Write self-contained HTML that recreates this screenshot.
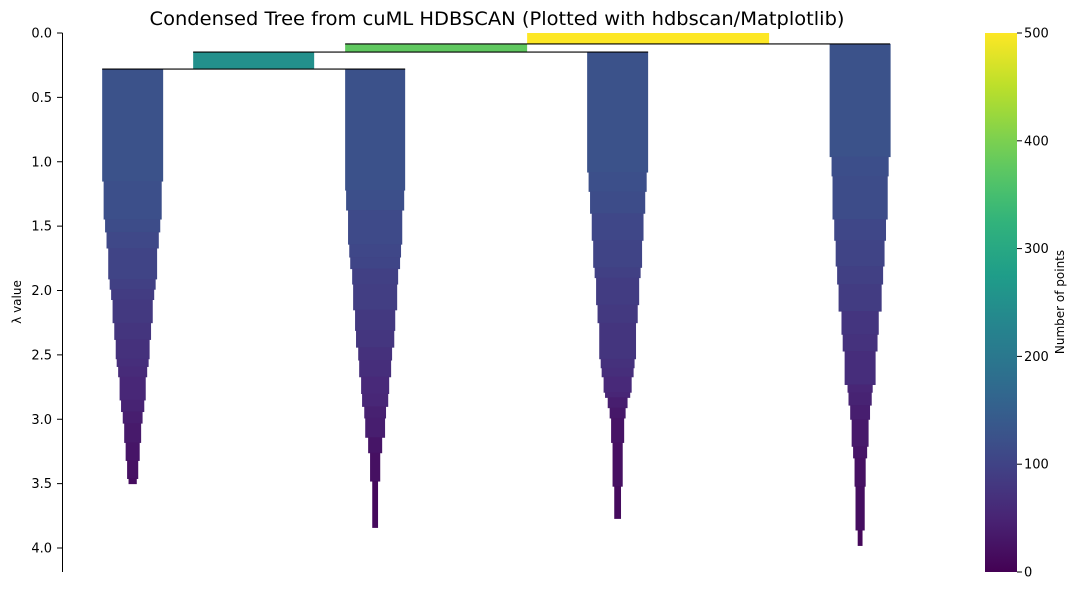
<!DOCTYPE html>
<html><head><meta charset="utf-8"><style>
body{margin:0;background:#fff;}
svg text{font-family:"DejaVu Sans","Liberation Sans",sans-serif;}
</style></head><body>
<svg id="chart" width="1077" height="590" xmlns="http://www.w3.org/2000/svg">
<text x="497" y="25" text-anchor="middle" font-size="19" textLength="695" lengthAdjust="spacingAndGlyphs">Condensed Tree from cuML HDBSCAN (Plotted with hdbscan/Matplotlib)</text>
<g id="plot"></g>
<g id="yaxis"></g>
<text transform="translate(21,302) rotate(-90)" text-anchor="middle" font-size="12">λ value</text>
<defs><linearGradient id="vir" x1="0" y1="1" x2="0" y2="0"></linearGradient></defs>
<rect x="985" y="33" width="32" height="539" fill="url(#vir)"/>
<g id="cbar"></g>
<text transform="translate(1064,302) rotate(-90)" text-anchor="middle" font-size="12">Number of points</text>
</svg>
<script>
// y ticks
const yTicks = [0.0, 0.5, 1.0, 1.5, 2.0, 2.5, 3.0, 3.5, 4.0];
const yTickLabels = ["0.0","0.5","1.0","1.5","2.0","2.5","3.0","3.5","4.0"];
const cbarTicks = [0, 100, 200, 300, 400, 500];
// parent (internal) nodes: center (in point units), size (points), lambda start, lambda end
const parentCenters = [1211, 773, 396];
const parentSizes = [500, 376, 250];
const parentStart = [0.0, 0.085, 0.148];
const parentEnd = [0.085, 0.148, 0.28];
// split lines: lambda, left, right (point units)
const splitLambda = [0.085, 0.148, 0.28];
const splitLeft = [585, 271, 83];
const splitRight = [1711, 1211, 709];
// leaf clusters
const leafCenters = [146, 647, 1148, 1649];
const leafStart = [0.28, 0.28, 0.148, 0.085];
const leafLambdas = [
 [1.15,1.445,1.545,1.67,1.91,1.99,2.07,2.25,2.38,2.53,2.59,2.67,2.85,2.94,3.03,3.18,3.32,3.46,3.50],
 [1.22,1.375,1.64,1.74,1.83,1.95,2.15,2.31,2.44,2.54,2.67,2.8,2.9,2.99,3.14,3.26,3.48,3.84],
 [1.08,1.23,1.40,1.61,1.82,1.90,2.11,2.25,2.53,2.60,2.67,2.79,2.83,2.91,2.99,3.18,3.52,3.77],
 [0.96,1.11,1.445,1.61,1.81,1.95,2.16,2.34,2.47,2.73,2.79,2.89,3.0,3.21,3.30,3.52,3.86,3.98]
];
const leafCounts = [
 [126,120,114,108,101,95,89,83,76,70,66,60,54,48,41,35,29,23,17],
 [124,120,112,107,103,95,91,83,79,70,66,58,54,45,41,29,21,12],
 [126,120,114,107,101,95,89,83,76,70,66,58,52,41,33,27,21,14],
 [126,118,114,107,101,95,89,77,72,64,52,48,41,35,29,23,19,10]
];

const X0 = 62, PXPT = 0.484, Y0 = 33, PXL = 128.75;
const sx = v => X0 + v * PXPT;
const sy = l => Y0 + l * PXL;
const VIR = [[68,1,84],[72,40,120],[62,74,137],[49,104,142],[38,130,142],[31,158,137],[53,183,121],[109,205,89],[180,222,44],[253,231,37]];
function viridis(t){t=Math.max(0,Math.min(1,t))*(VIR.length-1);const i=Math.min(Math.floor(t),VIR.length-2),f=t-i;
 const c=VIR[i].map((a,k)=>Math.round(a+(VIR[i+1][k]-a)*f));return `rgb(${c[0]},${c[1]},${c[2]})`;}
const col = n => viridis(n/500);
const NS="http://www.w3.org/2000/svg";
function mk(tag, attrs, parent){const e=document.createElementNS(NS,tag);for(const k in attrs)e.setAttribute(k,attrs[k]);parent.appendChild(e);return e;}
const plot=document.getElementById('plot');
// leaves
leafCenters.forEach((c,i)=>{
  let s=leafStart[i];
  leafLambdas[i].forEach((l,j)=>{
    const n=leafCounts[i][j], w=n*PXPT;
    const r=mk('rect',{x:sx(c)-w/2,y:sy(s),width:w,height:sy(l)-sy(s)+0.5,fill:col(n)},plot);
    
    
    s=l;
  });
});
// parents
parentCenters.forEach((c,i)=>{
  const w=parentSizes[i]*PXPT;
  const r=mk('rect',{x:sx(c)-w/2,y:sy(parentStart[i]),width:w,height:sy(parentEnd[i])-sy(parentStart[i]),fill:col(parentSizes[i])},plot);
  
  
});
splitLambda.forEach((l,i)=>{
  const ln=mk('line',{x1:sx(splitLeft[i]),x2:sx(splitRight[i]),y1:sy(l),y2:sy(l),stroke:'#000','stroke-width':1.2},plot);
  
  
});
// y axis
const ya=document.getElementById('yaxis');
const sp=mk('line',{x1:62.5,x2:62.5,y1:33,y2:572,stroke:'#000','stroke-width':1},ya);


yTicks.forEach((t,i)=>{
  const tk=mk('line',{x1:57,x2:62.5,y1:sy(t),y2:sy(t),stroke:'#000'},ya);
  
  
  const tx=mk('text',{x:52,y:sy(t)+4.5,'text-anchor':'end','font-size':13},ya);
  tx.textContent=yTickLabels[i];
  
  
});
// colorbar gradient
const g=document.getElementById('vir');
for(let i=0;i<=20;i++){mk('stop',{offset:(i/20),'stop-color':viridis(i/20)},g);}
const cb=document.getElementById('cbar');
cbarTicks.forEach(t=>{
  const y=572-t/500*539;
  const tk=mk('line',{x1:1017,x2:1022,y1:y,y2:y,stroke:'#000'},cb);
  
  
  const tx=mk('text',{x:1024,y:y+4.5,'font-size':13},cb);
  tx.textContent=t;
  
  
});
</script>
</body></html>
